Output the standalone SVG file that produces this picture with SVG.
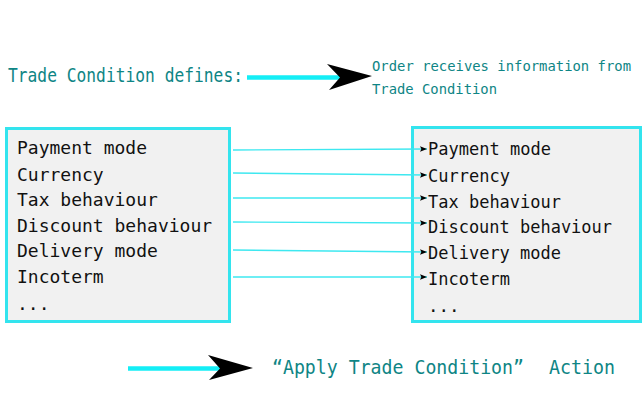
<svg xmlns="http://www.w3.org/2000/svg" width="644" height="400" viewBox="0 0 644 400">
<style>
.box{fill:#f1f1f1;stroke:#33e4ee;stroke-width:3}
.item{font-family:"DejaVu Sans Mono","Liberation Mono",monospace;fill:#111}
.lbl{font-family:"DejaVu Sans Mono","Liberation Mono",monospace;fill:#0e8585}
.conn{stroke:#3ee8f0;stroke-width:1.4;fill:none;marker-end:url(#ah)}
.thick{stroke:#14eef6;stroke-width:4.5;fill:none}
.head{fill:#000}
</style>
<defs>
<marker id="ah" viewBox="0 0 10 8" refX="10" refY="4" markerWidth="7" markerHeight="5.6" markerUnits="userSpaceOnUse" orient="auto">
<path d="M0,0 L10,4 L0,8 L2,4 Z" fill="#000"/>
</marker>
</defs>
<rect width="644" height="400" fill="#fff"/>

<g id="legend-top">
<text class="lbl" x="8" y="82" font-size="19" textLength="235" lengthAdjust="spacingAndGlyphs">Trade Condition defines:</text>
<line class="thick" x1="247" y1="77.5" x2="341" y2="77.5"/>
<path class="head" d="M327,64 L372,76 L329,90 L340,77.5 Z"/>
<text class="lbl" x="372" y="71" font-size="14" textLength="259" lengthAdjust="spacingAndGlyphs">Order receives information from</text>
<text class="lbl" x="372" y="93.5" font-size="14" textLength="125" lengthAdjust="spacingAndGlyphs">Trade Condition</text>
</g>

<g id="trade-condition">
<rect class="box" x="6.5" y="128.5" width="223" height="193"/>
<g class="item" font-size="18">
<text x="17" y="154">Payment mode</text>
<text x="17" y="180.5">Currency</text>
<text x="17" y="206">Tax behaviour</text>
<text x="17" y="231.5">Discount behaviour</text>
<text x="17" y="257">Delivery mode</text>
<text x="17" y="283">Incoterm</text>
<text x="17" y="310">...</text>
</g>
</g>

<g id="order">
<rect class="box" x="412.5" y="127.5" width="228" height="194"/>
<g class="item" font-size="17.5">
<text x="428" y="155" textLength="123" lengthAdjust="spacingAndGlyphs">Payment mode</text>
<text x="428" y="182" textLength="82" lengthAdjust="spacingAndGlyphs">Currency</text>
<text x="428" y="207.5" textLength="133" lengthAdjust="spacingAndGlyphs">Tax behaviour</text>
<text x="428" y="233" textLength="184" lengthAdjust="spacingAndGlyphs">Discount behaviour</text>
<text x="428" y="259" textLength="133" lengthAdjust="spacingAndGlyphs">Delivery mode</text>
<text x="428" y="285" textLength="82" lengthAdjust="spacingAndGlyphs">Incoterm</text>
<text x="428" y="312">...</text>
</g>
</g>

<g id="connectors">
<path class="conn" d="M233,150 L427,149"/>
<path class="conn" d="M233,173 L427,175"/>
<path class="conn" d="M233,198 L427,198"/>
<path class="conn" d="M233,222 L427,223"/>
<path class="conn" d="M233,250 L427,252"/>
<path class="conn" d="M233,277 L427,277"/>
</g>

<g id="legend-bottom">
<line class="thick" x1="128" y1="368.5" x2="221" y2="368.5"/>
<path class="head" d="M208,355 L253,368 L209,380 L220,368.5 Z"/>
<text class="lbl" x="272" y="374" font-size="19" textLength="252" lengthAdjust="spacingAndGlyphs">“Apply Trade Condition”</text>
<text class="lbl" x="549" y="374" font-size="19" textLength="66" lengthAdjust="spacingAndGlyphs">Action</text>
</g>
</svg>
